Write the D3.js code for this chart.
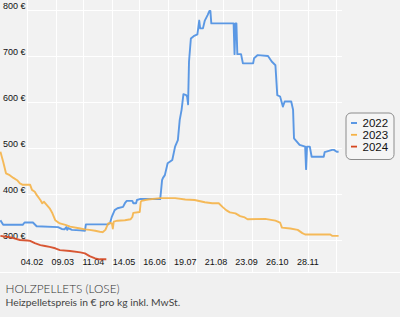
<!DOCTYPE html>
<html>
<head>
<meta charset="utf-8">
<title>Holzpellets</title>
<script src="https://cdn.jsdelivr.net/npm/d3@7"></script>
<style>
body { margin:0; background:#fff; }
svg { display:block; }
</style>
</head>
<body>
<div id="chart"></div>
<script>
// series + colours
var series = ["2022", "2023", "2024"];
var colors = ["#4a8ee2", "#f5b247", "#d5461f"];

// axis ticks
var yTicks = [300, 400, 500, 600, 700, 800];
var tickDays = [34, 67, 100, 133, 166, 199, 232, 265, 298, 331];
var tickLabels = ["04.02", "09.03", "11.04", "14.05", "16.06", "19.07", "21.08", "23.09", "26.10", "28.11"];
var gridDays = [29, 60, 89, 120, 149, 180, 210, 240, 271, 300, 331, 361];

// [day of year, price in EUR]
var data2022 = [[0,343],[3,333],[24,333],[26,338],[35,338],[39,330],[62,328],[66,324],[69,323],[71,328],[72,322],[73,326],[77,322],[86,321],[91,320],[92,334],[116,334],[118,337],[120,351],[123,365],[126,369],[132,372],[134,380],[136,385],[142,385],[143,380],[146,380],[147,387],[150,389],[172,389],[173,409],[174,430],[175,435],[177,441],[180,467],[185,474],[188,503],[191,517],[193,561],[195,583],[197,617],[200,615],[201,611],[202,595],[203,688],[205,738],[208,743],[212,747],[214,777],[215,760],[218,760],[220,777],[223,789],[225,798],[226,798],[227,771],[251,771],[252,704],[253,771],[254,771],[255,704],[259,704],[261,684],[272,684],[273,695],[277,702],[288,700],[292,688],[296,680],[298,615],[301,612],[304,590],[306,601],[313,601],[315,583],[316,521],[319,514],[322,507],[328,503],[329,454],[330,503],[333,503],[335,481],[348,481],[349,491],[357,496],[359,496],[362,492],[364,492]];
var data2023 = [[0,492],[3,470],[6,445],[10,441],[14,435],[18,430],[21,423],[24,420],[32,420],[34,409],[37,405],[39,398],[43,387],[45,380],[47,383],[50,376],[53,369],[56,358],[59,343],[61,340],[64,336],[70,333],[75,329],[86,325],[91,323],[96,322],[102,320],[107,318],[110,317],[113,322],[116,336],[118,337],[120,336],[121,325],[122,340],[126,342],[134,343],[140,345],[142,350],[143,359],[150,361],[151,383],[152,385],[156,387],[159,388],[172,391],[188,391],[199,388],[209,387],[220,382],[228,380],[235,380],[239,372],[243,365],[247,360],[253,358],[258,352],[263,349],[266,345],[285,346],[296,342],[301,338],[303,327],[312,325],[320,322],[325,315],[328,312],[355,312],[357,309],[364,309]];
var data2024 = [[0,309],[10,306],[14,304],[21,300],[29,299],[32,298],[37,293],[43,289],[48,287],[53,285],[59,282],[64,278],[75,276],[86,273],[91,271],[96,265],[102,260],[107,258],[114,258]];
var allData = [data2022, data2023, data2024];

var W = 400, H = 333;
var svg = d3.select("#chart").append("svg").attr("width", W).attr("height", H);

var x = d3.scaleLinear().domain([0, 364]).range([0.4, 338.6]);
var y = d3.scaleLinear().domain([300, 800]).range([240, 10]);

svg.append("rect").attr("width", W).attr("height", 272).attr("fill", "#f2f2f2");
svg.append("rect").attr("y", 273).attr("width", W).attr("height", 44).attr("fill", "#f0f0f0");

// grid
svg.selectAll(".vg").data(gridDays).enter().append("line")
	.attr("x1", d => Math.round(x(d)) + 0.5).attr("x2", d => Math.round(x(d)) + 0.5)
	.attr("y1", 0).attr("y2", 272)
	.attr("stroke", "#fff").attr("stroke-width", 1);
svg.selectAll(".hg").data(yTicks).enter().append("line")
	.attr("x1", 27).attr("x2", 342)
	.attr("y1", d => Math.round(y(d)) + 0.5).attr("y2", d => Math.round(y(d)) + 0.5)
	.attr("stroke", "#fff").attr("stroke-width", 1);

// y labels
svg.selectAll(".yl").data(yTicks).enter().append("text")
	.attr("x", 3).attr("y", d => y(d) - 1.5)
	.attr("font-family", "Liberation Sans, Arial, sans-serif").attr("font-size", 9)
	.attr("fill", "#111")
	.text(d => d + " €");

// x labels
svg.selectAll(".xl").data(tickDays).enter().append("text")
	.attr("x", d => x(d)).attr("y", 264.5)
	.attr("text-anchor", "middle")
	.attr("font-family", "Liberation Sans, Arial, sans-serif").attr("font-size", 9)
	.attr("fill", "#111")
	.text((d, i) => tickLabels[i]);

// lines
var line = d3.line().x(d => x(d[0])).y(d => y(d[1]));
svg.selectAll(".series").data(allData).enter().append("path")
	.attr("d", line)
	.attr("fill", "none")
	.attr("stroke", (d, i) => colors[i])
	.attr("stroke-width", 1.9)
	.attr("stroke-opacity", 0.9)
	.attr("stroke-linejoin", "round");

// legend
var lg = svg.append("g");
lg.append("rect").attr("x", 346).attr("y", 113).attr("width", 48).attr("height", 46.5)
	.attr("rx", 5).attr("fill", "#f5f5f5").attr("stroke", "#8c8c8c");
series.forEach(function(s, i) {
	var by = 127 + i * 11.8;
	lg.append("line").attr("x1", 351).attr("x2", 357).attr("y1", by - 4).attr("y2", by - 4)
		.attr("stroke", colors[i]).attr("stroke-width", 1.8);
	lg.append("text").attr("x", 362.5).attr("y", by)
		.attr("font-family", "Liberation Sans, Arial, sans-serif").attr("font-size", 11.5)
		.attr("fill", "#111").text(s);
});

// caption
svg.append("text").attr("x", 5.5).attr("y", 292.5)
	.attr("font-family", "Lato, sans-serif").attr("font-size", 11.8).attr("font-weight", 300)
	.attr("fill", "#333").text("HOLZPELLETS (LOSE)");
svg.append("text").attr("x", 5.5).attr("y", 305.5)
	.attr("font-family", "Lato, sans-serif").attr("font-size", 10.3)
	.attr("fill", "#444").text("Heizpelletspreis in € pro kg inkl. MwSt.");
</script>
</body>
</html>
